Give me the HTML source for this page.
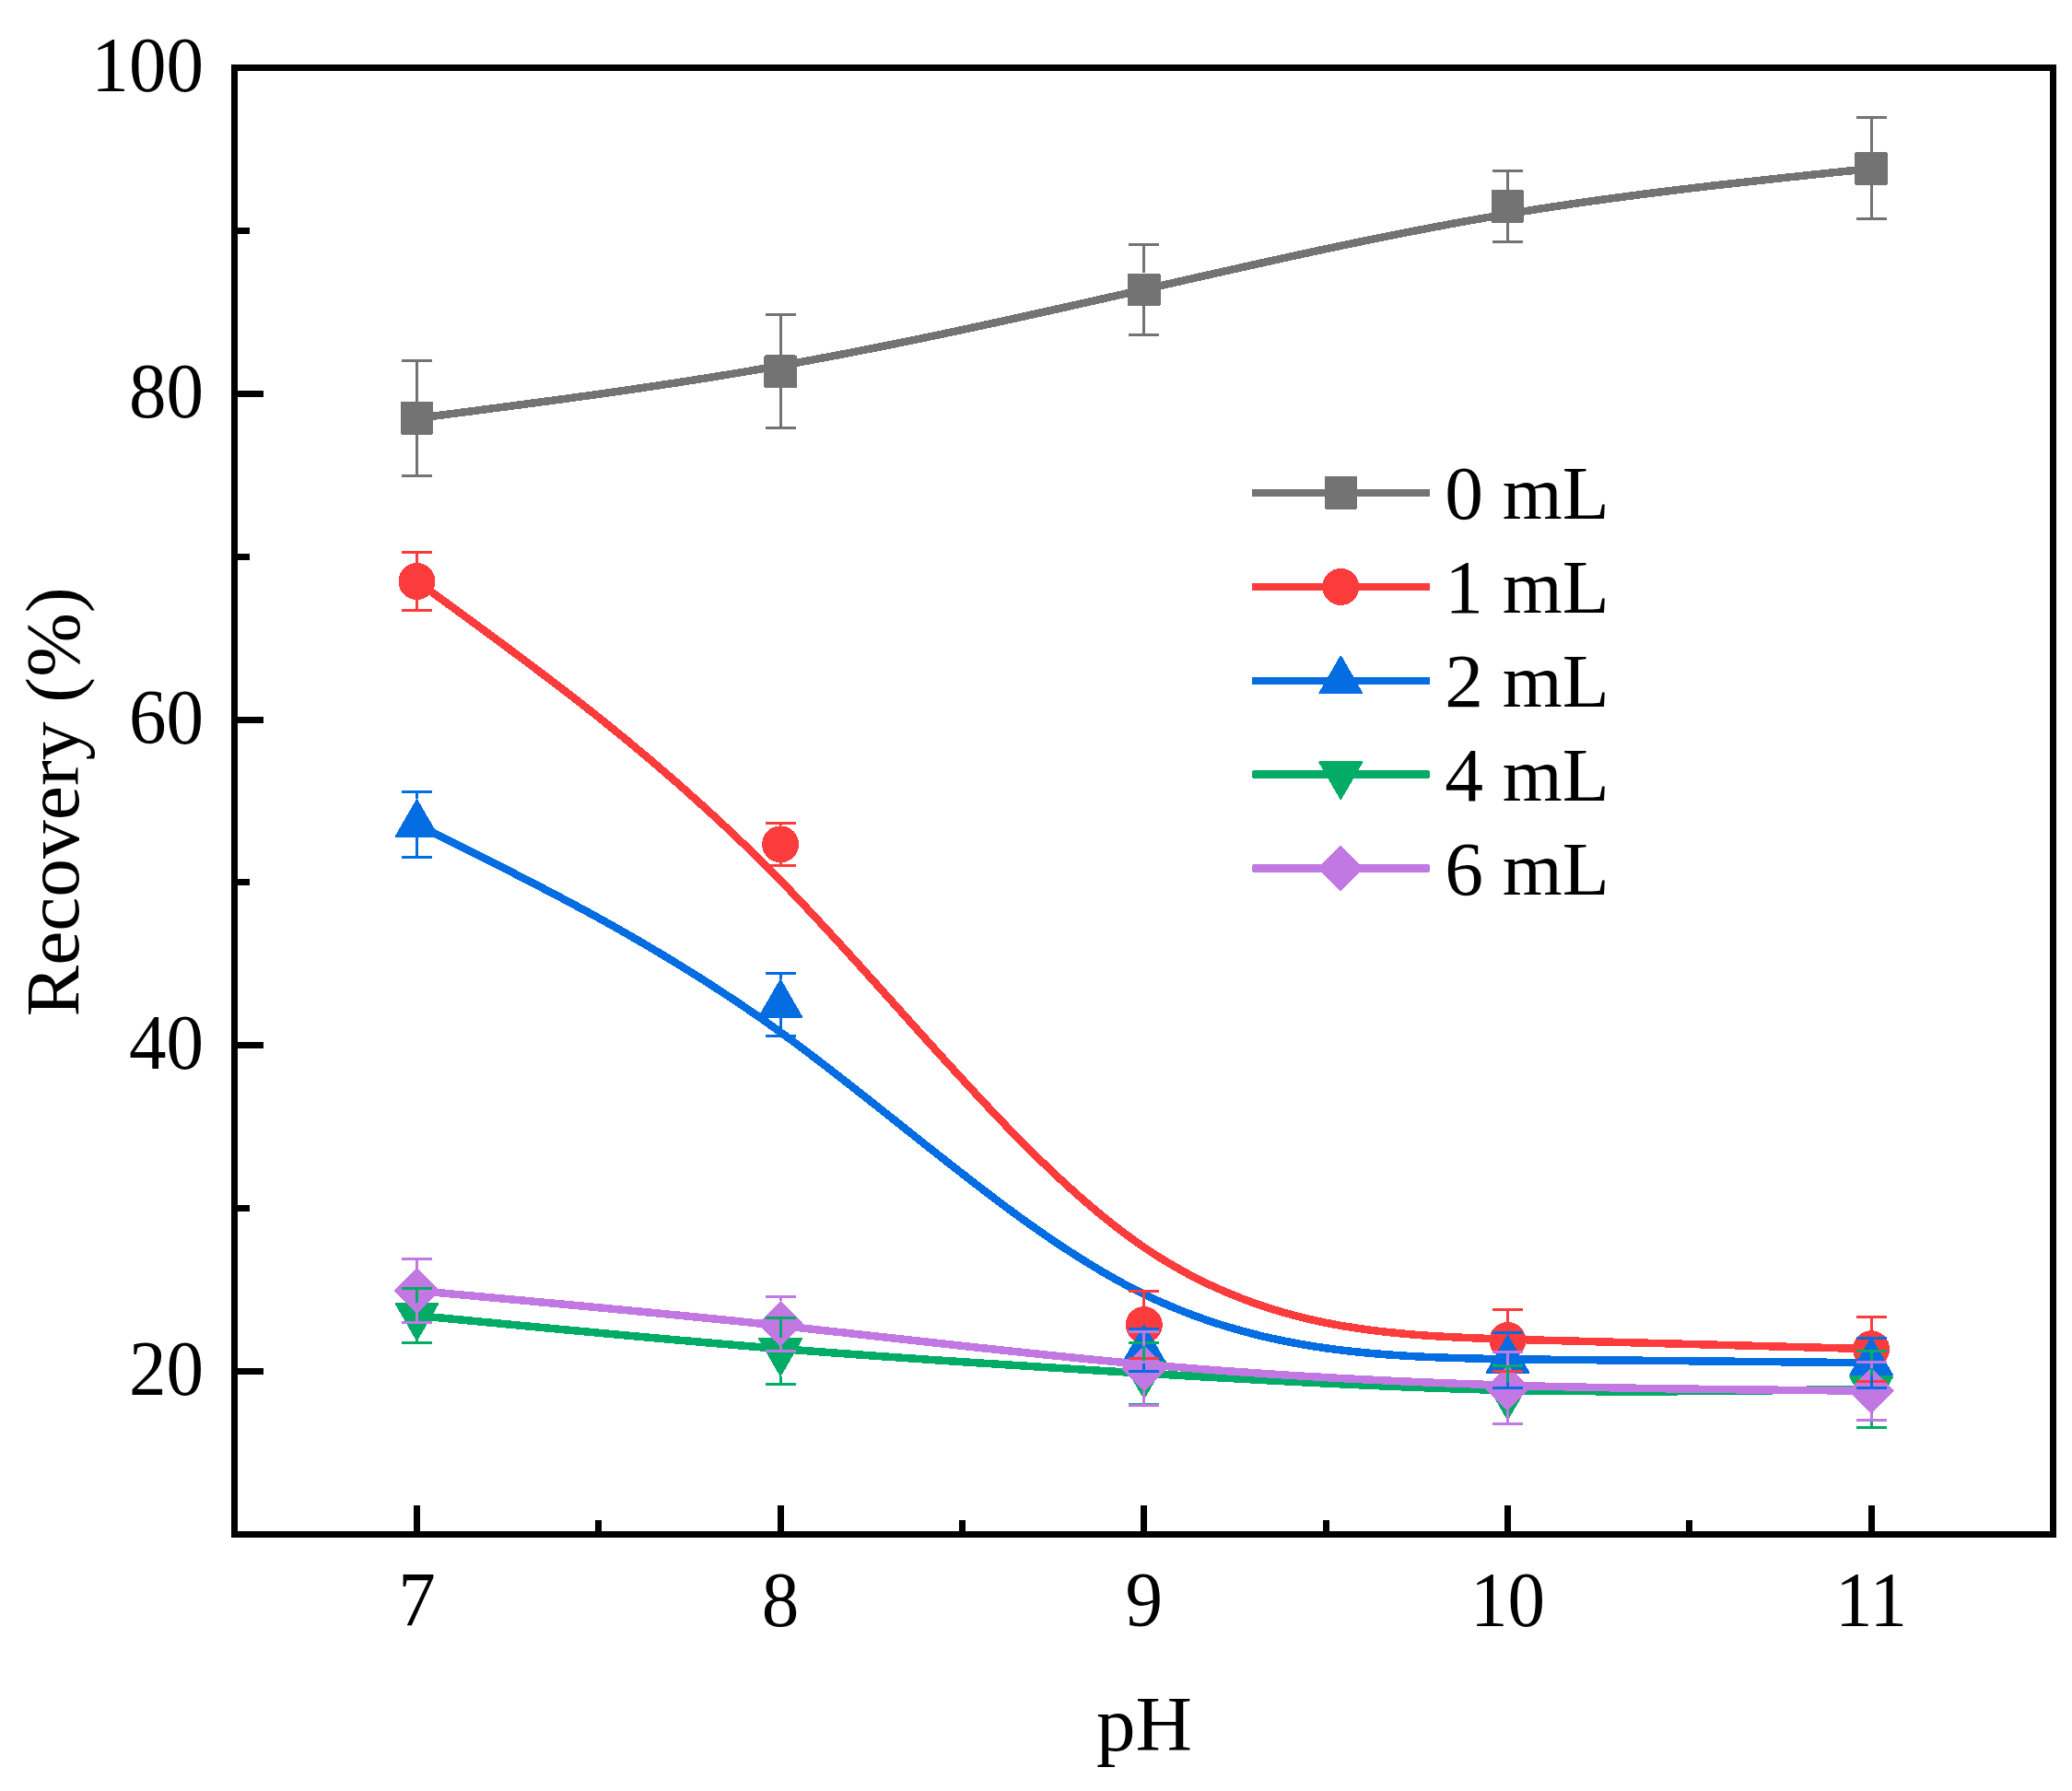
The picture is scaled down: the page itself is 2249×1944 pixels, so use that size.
<!DOCTYPE html>
<html lang="en"><head><meta charset="utf-8"><title>Recovery vs pH</title>
<style>html,body{margin:0;padding:0;background:#fff}svg{display:block}text{font-family:"Liberation Serif", "Times New Roman", serif;font-size:83.5px;fill:#000}</style></head>
<body>
<svg width="2249" height="1944" viewBox="0 0 2249 1944" shape-rendering="crispEdges">
<rect x="0" y="0" width="2249" height="1944" fill="#fff"/>
<g id="series" fill="none">
<path d="M452.5,453.99 C584.05,437.07 715.6,420.14 847.15,396.88 C978.7,373.62 1110.25,344.02 1241.8,314.16 C1373.35,284.29 1504.9,254.16 1636.45,232.26 C1768,210.35 1899.55,196.67 2031.1,182.99" stroke="#737373" stroke-width="8.5" fill="none"/>
<rect x="434.75" y="436.24" width="35.5" height="35.5" rx="1.5" fill="#737373"/>
<rect x="829.4" y="385.47" width="35.5" height="35.5" rx="1.5" fill="#737373"/>
<rect x="1224.05" y="296.67" width="35.5" height="35.5" rx="1.5" fill="#737373"/>
<rect x="1618.7" y="206.28" width="35.5" height="35.5" rx="1.5" fill="#737373"/>
<rect x="2013.35" y="165.24" width="35.5" height="35.5" rx="1.5" fill="#737373"/>
<path d="M452.5,631.05 C584.05,726.16 715.6,821.27 847.15,955.76 C978.7,1090.26 1110.25,1264.14 1241.8,1353.91 C1373.35,1443.68 1504.9,1449.34 1636.45,1453.71 C1768,1458.07 1899.55,1461.13 2031.1,1464.2" stroke="#FC3B3D" stroke-width="8.5" fill="none"/>
<circle cx="452.5" cy="631.05" r="20" fill="#FC3B3D"/>
<circle cx="847.15" cy="916.38" r="20" fill="#FC3B3D"/>
<circle cx="1241.8" cy="1438.02" r="20" fill="#FC3B3D"/>
<circle cx="1636.45" cy="1455" r="20" fill="#FC3B3D"/>
<circle cx="2031.1" cy="1464.2" r="20" fill="#FC3B3D"/>
<path d="M452.5,894.97 C584.05,960.13 715.6,1025.28 847.15,1120.36 C978.7,1215.44 1110.25,1340.44 1241.8,1404.82 C1373.35,1469.21 1504.9,1472.99 1636.45,1475.29 C1768,1477.59 1899.55,1478.41 2031.1,1479.24" stroke="#046DE2" stroke-width="8.5" fill="none"/>
<polygon points="452.5,868.47 475.45,908.22 429.55,908.22" fill="#046DE2" stroke="#046DE2" stroke-width="2" stroke-linejoin="round"/>
<polygon points="847.15,1063.93 870.1,1103.68 824.2,1103.68" fill="#046DE2" stroke="#046DE2" stroke-width="2" stroke-linejoin="round"/>
<polygon points="1241.8,1438.94 1264.75,1478.69 1218.85,1478.69" fill="#046DE2" stroke="#046DE2" stroke-width="2" stroke-linejoin="round"/>
<polygon points="1636.45,1450.26 1659.4,1490.01 1613.5,1490.01" fill="#046DE2" stroke="#046DE2" stroke-width="2" stroke-linejoin="round"/>
<polygon points="2031.1,1452.74 2054.05,1492.49 2008.15,1492.49" fill="#046DE2" stroke="#046DE2" stroke-width="2" stroke-linejoin="round"/>
<path d="M452.5,1427.94 C584.05,1440.73 715.6,1453.53 847.15,1464.02 C978.7,1474.52 1110.25,1482.71 1241.8,1490.65 C1373.35,1498.58 1504.9,1506.24 1636.45,1509.04 C1768,1511.84 1899.55,1509.78 2031.1,1507.72" stroke="#02AC67" stroke-width="8.5" fill="none"/>
<polygon points="452.5,1454.44 475.45,1414.69 429.55,1414.69" fill="#02AC67" stroke="#02AC67" stroke-width="2" stroke-linejoin="round"/>
<polygon points="847.15,1492.82 870.1,1453.07 824.2,1453.07" fill="#02AC67" stroke="#02AC67" stroke-width="2" stroke-linejoin="round"/>
<polygon points="1241.8,1517.41 1264.75,1477.66 1218.85,1477.66" fill="#02AC67" stroke="#02AC67" stroke-width="2" stroke-linejoin="round"/>
<polygon points="1636.45,1540.41 1659.4,1500.66 1613.5,1500.66" fill="#02AC67" stroke="#02AC67" stroke-width="2" stroke-linejoin="round"/>
<polygon points="2031.1,1534.22 2054.05,1494.47 2008.15,1494.47" fill="#02AC67" stroke="#02AC67" stroke-width="2" stroke-linejoin="round"/>
<path d="M452.5,1401.05 C584.05,1412.96 715.6,1424.87 847.15,1438.96 C978.7,1453.06 1110.25,1469.33 1241.8,1480.98 C1373.35,1492.62 1504.9,1499.64 1636.45,1503.65 C1768,1507.66 1899.55,1508.66 2031.1,1509.66" stroke="#C278E2" stroke-width="8.5" fill="none"/>
<polygon points="452.5,1377.65 475.9,1401.05 452.5,1424.45 429.1,1401.05" fill="#C278E2" stroke="#C278E2" stroke-width="2" stroke-linejoin="round"/>
<polygon points="847.15,1413.38 870.55,1436.78 847.15,1460.18 823.75,1436.78" fill="#C278E2" stroke="#C278E2" stroke-width="2" stroke-linejoin="round"/>
<polygon points="1241.8,1462.2 1265.2,1485.6 1241.8,1509 1218.4,1485.6" fill="#C278E2" stroke="#C278E2" stroke-width="2" stroke-linejoin="round"/>
<polygon points="1636.45,1483.25 1659.85,1506.65 1636.45,1530.05 1613.05,1506.65" fill="#C278E2" stroke="#C278E2" stroke-width="2" stroke-linejoin="round"/>
<polygon points="2031.1,1486.26 2054.5,1509.66 2031.1,1533.06 2007.7,1509.66" fill="#C278E2" stroke="#C278E2" stroke-width="2" stroke-linejoin="round"/>
</g>
<g id="errorbars">
<path d="M436,391.5H469M436,516.5H469M452.5,391.5V435.99M452.5,471.99V516.5M831,341.5H864M831,464.5H864M847.5,341.5V385.22M847.5,421.22V464.5M1225,265.5H1258M1225,363.5H1258M1241.5,265.5V296.42M1241.5,332.42V363.5M1620,185.5H1653M1620,262.5H1653M1636.5,185.5V206.03M1636.5,242.03V262.5M2015,127.5H2048M2015,237.5H2048M2031.5,127.5V164.99M2031.5,200.99V237.5" stroke="#737373" stroke-width="3" fill="none"/>
<path d="M436,599.5H469M436,662.5H469M452.5,599.5V611.05M452.5,651.05V662.5M831,893.5H864M831,939.5H864M847.5,893.5V896.38M847.5,936.38V939.5M1225,1401.5H1258M1225,1474.5H1258M1241.5,1401.5V1418.02M1241.5,1458.02V1474.5M1620,1421.5H1653M1620,1488.5H1653M1636.5,1421.5V1435M1636.5,1475V1488.5M2015,1429.5H2048M2015,1499.5H2048M2031.5,1429.5V1444.2M2031.5,1484.2V1499.5" stroke="#FC3B3D" stroke-width="3" fill="none"/>
<path d="M436,859.5H469M436,930.5H469M452.5,859.5V867.47M452.5,909.22V930.5M831,1056.5H864M831,1124.5H864M847.5,1056.5V1062.93M847.5,1104.68V1124.5M1225,1442.5H1258M1225,1488.5H1258M1241.5,1479.69V1488.5M1620,1446.5H1653M1620,1506.5H1653M1636.5,1446.5V1449.26M1636.5,1491.01V1506.5M2015,1452.5H2048M2015,1506.5H2048M2031.5,1493.49V1506.5" stroke="#046DE2" stroke-width="3" fill="none"/>
<path d="M436,1398.5H469M436,1457.5H469M452.5,1398.5V1413.69M452.5,1455.44V1457.5M831,1430.5H864M831,1502.5H864M847.5,1430.5V1452.07M847.5,1493.82V1502.5M1225,1457.5H1258M1225,1524.5H1258M1241.5,1457.5V1476.66M1241.5,1518.41V1524.5M1620,1482.5H1653M1620,1545.5H1653M1636.5,1482.5V1499.66M1636.5,1541.41V1545.5M2015,1466.5H2048M2015,1549.5H2048M2031.5,1466.5V1493.47M2031.5,1535.22V1549.5" stroke="#02AC67" stroke-width="3" fill="none"/>
<path d="M436,1366.5H469M436,1435.5H469M452.5,1366.5V1376.65M452.5,1425.45V1435.5M831,1407.5H864M831,1466.5H864M847.5,1407.5V1412.38M847.5,1461.18V1466.5M1225,1445.5H1258M1225,1525.5H1258M1241.5,1445.5V1461.2M1241.5,1510V1525.5M1620,1467.5H1653M1620,1545.5H1653M1636.5,1467.5V1482.25M1636.5,1531.05V1545.5M2015,1478.5H2048M2015,1541.5H2048M2031.5,1478.5V1485.26M2031.5,1534.06V1541.5" stroke="#C278E2" stroke-width="3" fill="none"/>
</g>
<g id="axes" stroke="#000" stroke-width="7" fill="none">
<rect x="254.5" y="73.5" width="1974.0" height="1592.0"/>
<path d="M452.5,1665.5V1634.0M847.5,1665.5V1634.0M1241.5,1665.5V1634.0M1636.5,1665.5V1634.0M2031.5,1665.5V1634.0M649.5,1665.5V1649.5M1044.5,1665.5V1649.5M1439.5,1665.5V1649.5M1833.5,1665.5V1649.5M254.5,1488.5H286.0M254.5,1134.5H286.0M254.5,781.5H286.0M254.5,427.5H286.0M254.5,1311.5H271.0M254.5,957.5H271.0M254.5,604.5H271.0M254.5,250.5H271.0"/>
</g>
<g id="ticklabels">
<text transform="translate(452.5,1765) scale(0.96,1)" text-anchor="middle" style="font-size:84.5px">7</text>
<text transform="translate(847.15,1765) scale(0.96,1)" text-anchor="middle" style="font-size:84.5px">8</text>
<text transform="translate(1241.8,1765) scale(0.96,1)" text-anchor="middle" style="font-size:84.5px">9</text>
<text transform="translate(1636.45,1765) scale(0.96,1)" text-anchor="middle" style="font-size:84.5px">10</text>
<text transform="translate(2031.1,1765) scale(0.96,1)" text-anchor="middle" style="font-size:84.5px">11</text>
<text transform="translate(221,1514.11) scale(0.96,1)" text-anchor="end" style="font-size:84.5px">20</text>
<text transform="translate(221,1160.33) scale(0.96,1)" text-anchor="end" style="font-size:84.5px">40</text>
<text transform="translate(221,806.56) scale(0.96,1)" text-anchor="end" style="font-size:84.5px">60</text>
<text transform="translate(221,452.78) scale(0.96,1)" text-anchor="end" style="font-size:84.5px">80</text>
<text transform="translate(221,99) scale(0.96,1)" text-anchor="end" style="font-size:84.5px">100</text>
</g>
<text x="1242" y="1900" text-anchor="middle" style="font-size:85px">pH</text>
<text transform="translate(85,870.5) rotate(-90)" text-anchor="middle">Recovery (%)</text>
<g id="legend">
<rect x="1359" y="530.55" width="193" height="8.5" rx="2" fill="#737373"/>
<rect x="1437.55" y="517.05" width="35.5" height="35.5" rx="1.5" fill="#737373"/>
<text x="1568.2" y="562.8">0 mL</text>
<rect x="1359" y="632.65" width="193" height="8.5" rx="2" fill="#FC3B3D"/>
<circle cx="1455.3" cy="636.9" r="20" fill="#FC3B3D"/>
<text x="1568.2" y="664.9">1 mL</text>
<rect x="1359" y="734.85" width="193" height="8.5" rx="2" fill="#046DE2"/>
<polygon points="1455.3,712.6 1478.25,752.35 1432.35,752.35" fill="#046DE2" stroke="#046DE2" stroke-width="2" stroke-linejoin="round"/>
<text x="1568.2" y="767.1">2 mL</text>
<rect x="1359" y="836.25" width="193" height="8.5" rx="2" fill="#02AC67"/>
<polygon points="1455.3,867 1478.25,827.25 1432.35,827.25" fill="#02AC67" stroke="#02AC67" stroke-width="2" stroke-linejoin="round"/>
<text x="1568.2" y="868.5">4 mL</text>
<rect x="1359" y="938.25" width="193" height="8.5" rx="2" fill="#C278E2"/>
<polygon points="1455.3,919.1 1478.7,942.5 1455.3,965.9 1431.9,942.5" fill="#C278E2" stroke="#C278E2" stroke-width="2" stroke-linejoin="round"/>
<text x="1568.2" y="970.5">6 mL</text>
</g>
</svg>
</body></html>
